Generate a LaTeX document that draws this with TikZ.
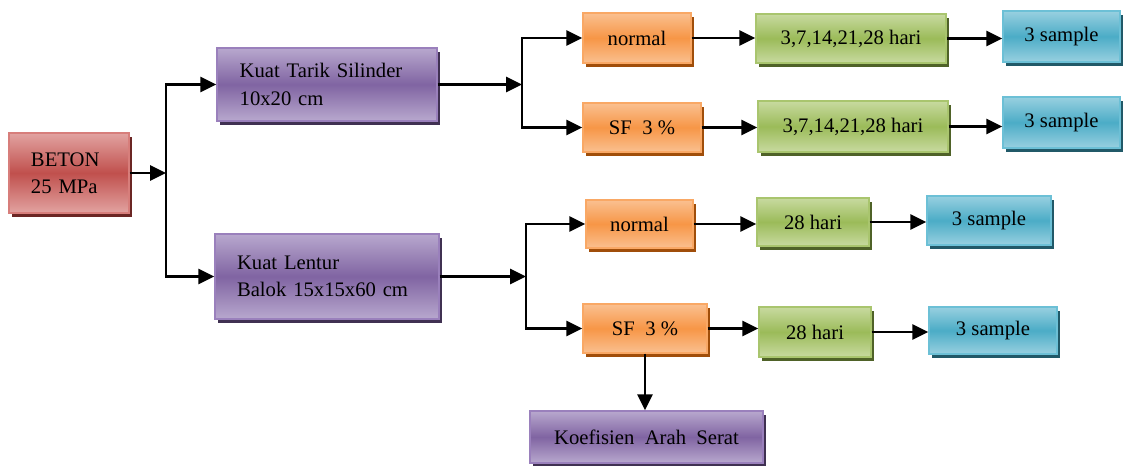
\documentclass[tikz,border=0pt]{standalone}
\usepackage{fontspec}
\setmainfont{Liberation Serif}
\usetikzlibrary{arrows.meta,shadows}
\definecolor{redM}{HTML}{C0504D}\definecolor{redL}{HTML}{E2A3A1}\definecolor{redB}{HTML}{D77E7B}\definecolor{redS}{HTML}{6B2624}
\definecolor{purM}{HTML}{8064A2}\definecolor{purL}{HTML}{B8A8CE}\definecolor{purB}{HTML}{9A80BC}\definecolor{purS}{HTML}{403152}
\definecolor{orM}{HTML}{F79646}\definecolor{orL}{HTML}{FAC090}\definecolor{orB}{HTML}{F9A865}\definecolor{orS}{HTML}{A04E0A}
\definecolor{grM}{HTML}{9BBB59}\definecolor{grL}{HTML}{C8DAA0}\definecolor{grB}{HTML}{A9C56E}\definecolor{grS}{HTML}{4F6228}
\definecolor{blM}{HTML}{4BACC6}\definecolor{blL}{HTML}{98D0E0}\definecolor{blB}{HTML}{6CC0D6}\definecolor{blS}{HTML}{215968}
\tikzset{
  basebox/.style={rectangle, inner sep=0pt, line width=1.1pt, text=black,
    font=\fontsize{15.5}{20.5}\selectfont},
  redbox/.style={basebox, draw=redB, top color=redL, bottom color=redL, middle color=redM,
    general shadow={fill=redS, shadow xshift=2.6pt, shadow yshift=-3.2pt}},
  purbox/.style={basebox, draw=purB, top color=purL, bottom color=purL, middle color=purM,
    general shadow={fill=purS, shadow xshift=2.6pt, shadow yshift=-3.2pt}},
  orbox/.style={basebox, draw=orB, top color=orL, bottom color=orL, middle color=orM,
    general shadow={fill=orS, shadow xshift=2.6pt, shadow yshift=-3.2pt}},
  grbox/.style={basebox, draw=grB, top color=grL, bottom color=grL, middle color=grM,
    general shadow={fill=grS, shadow xshift=2.6pt, shadow yshift=-3.2pt}},
  blbox/.style={basebox, draw=blB, top color=blL, bottom color=blL, middle color=blM,
    general shadow={fill=blS, shadow xshift=2.6pt, shadow yshift=-3.2pt}},
  arr/.style={line width=1.6pt, -{Triangle[length=12pt, width=11.5pt]}},
}
\begin{document}
\begin{tikzpicture}[x=0.75pt, y=-0.75pt]
\useasboundingbox (0,0) rectangle (1123,466);
% level 0/1
\node[redbox, align=left, text width=57pt, inner xsep=16.5pt, minimum height=60pt] (beton) at (69,173) {BETON\\25 MPa};
\node[purbox, align=left, text width=131pt, inner xsep=17pt, minimum height=54.75pt] (tarik) at (327,84.5) {Kuat Tarik Silinder\\10x20 cm};
\node[purbox, align=left, text width=135pt, inner xsep=16.5pt, minimum height=63.75pt] (lentur) at (327,276.5) {Kuat Lentur\\Balok 15x15x60 cm};
% top branch
\node[orbox, minimum width=81pt, minimum height=37.5pt] (n1) at (637,38) {normal};
\node[orbox, minimum width=88.5pt, minimum height=36.75pt] (s1) at (642,127.5) {SF\ \ 3 \%};
\node[grbox, minimum width=142.5pt, minimum height=36.75pt] (g1) at (851,38.5) {3,7,14,21,28 hari};
\node[grbox, minimum width=142.5pt, minimum height=38.25pt] (g2) at (853,126.5) {3,7,14,21,28 hari};
\node[blbox, minimum width=87.75pt, minimum height=38.25pt] (b1) at (1061.5,36.5) {3 sample};
\node[blbox, minimum width=87.75pt, minimum height=38.25pt] (b2) at (1061.5,122.5) {3 sample};
% bottom branch
\node[orbox, minimum width=80.25pt, minimum height=36pt] (n2) at (639.5,224) {normal};
\node[orbox, minimum width=93pt, minimum height=36.75pt] (s2) at (645,328.5) {SF\ \ 3 \%};
\node[grbox, minimum width=84pt, minimum height=36pt] (g3) at (813,222) {28 hari};
\node[grbox, minimum width=84pt, minimum height=37.5pt] (g4) at (815,332) {28 hari};
\node[blbox, minimum width=93pt, minimum height=36.75pt] (b3) at (989,220.5) {3 sample};
\node[blbox, minimum width=96pt, minimum height=35.25pt] (b4) at (993,330.5) {3 sample};
\node[purbox, minimum width=174.75pt, minimum height=39pt] (koef) at (646.5,437) {Koefisien\ \ Arah\ \ Serat};
% junctions
\coordinate (j1) at (166,173);
\coordinate (j2) at (522,84.5);
\coordinate (j3) at (526,276.5);
% connectors
\draw[arr] (beton.east) -- (j1);
\draw[arr] (j1) |- (tarik.west);
\draw[arr] (j1) |- (lentur.west);
\draw[arr] (tarik.east) -- (j2);
\draw[arr] (j2) |- (n1.west);
\draw[arr] (j2) |- (s1.west);
\draw[arr] (lentur.east) -- (j3);
\draw[arr] (j3) |- (n2.west);
\draw[arr] (j3) |- (s2.west);
\draw[arr] (n1.east) -- (n1.east -| g1.west);
\draw[arr] (g1.east) -- (g1.east -| b1.west);
\draw[arr] (s1.east) -- (s1.east -| g2.west);
\draw[arr] (g2.east) -- (g2.east -| b2.west);
\draw[arr] (n2.east) -- (n2.east -| g3.west);
\draw[arr] (g3.east) -- (g3.east -| b3.west);
\draw[arr] (s2.east) -- (s2.east -| g4.west);
\draw[arr] (g4.east) -- (g4.east -| b4.west);
\draw[arr] (s2.south) -- (s2.south |- koef.north);
\end{tikzpicture}
\end{document}
